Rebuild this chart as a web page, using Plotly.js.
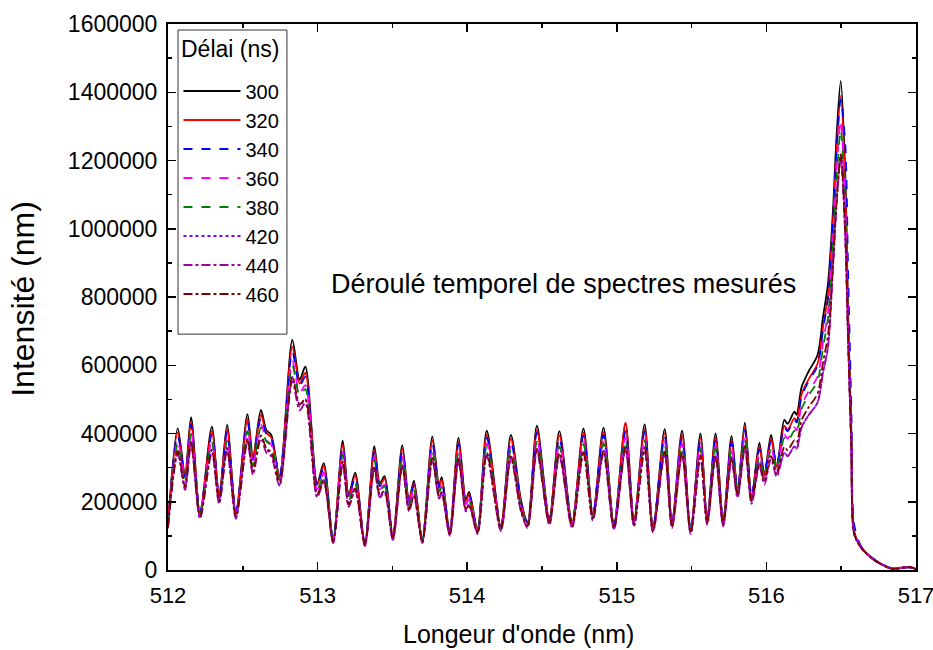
<!DOCTYPE html>
<html>
<head>
<meta charset="utf-8">
<script src="https://cdn.plot.ly/plotly-3.0.1.min.js"></script>
<style>html,body{margin:0;padding:0;background:#fff;}#chart{width:933px;height:650px;}</style>
</head>
<body>
<div id="chart"></div>
<script>
// Wavelength (nm)
const wavelength = [512.000,512.065,512.114,512.154,512.214,512.293,512.342,512.395,512.454,512.531,512.568,512.621,512.657,512.690,512.746,512.831,512.880,512.918,512.997,513.041,513.104,513.168,513.208,513.251,513.316,513.379,513.416,513.448,513.503,513.566,513.611,513.644,513.700,513.767,513.812,513.830,513.883,513.942,513.991,514.013,514.069,514.131,514.225,514.292,514.359,514.404,514.466,514.549,514.616,514.701,514.777,514.840,514.911,514.981,515.058,515.115,515.186,515.242,515.320,515.369,515.436,515.494,515.559,515.604,515.660,515.711,515.767,515.807,515.856,515.901,515.953,515.986,516.031,516.069,516.120,516.142,516.187,516.202,516.236,516.281,516.342,516.378,516.412,516.446,516.468,516.497,516.527,516.546,516.568,516.588,516.638,516.725,516.839,516.953,517.000];

const delays = ["300","320","340","360","380","420","440","460"];

const i300 = [135e3,415e3,280e3,448e3,167e3,420e3,215e3,425e3,167e3,457e3,332e3,469e3,410e3,396e3,273e3,674e3,557e3,596e3,254e3,313e3,88e3,379e3,220e3,285e3,78e3,363e3,254e3,275e3,98e3,366e3,205e3,262e3,88e3,391e3,249e3,272e3,112e3,388e3,205e3,229e3,117e3,408e3,127e3,396e3,205e3,137e3,423e3,147e3,407e3,137e3,415e3,161e3,417e3,132e3,428e3,142e3,427e3,122e3,413e3,137e3,408e3,117e3,400e3,147e3,400e3,142e3,393e3,234e3,432e3,215e3,373e3,278e3,396e3,303e3,440e3,428e3,464e3,455e3,537e3,581e3,630e3,740e3,840e3,1061e3,1263e3,1433e3,1162e3,759e3,400e3,110e3,64e3,29e3,4e3,9e3,2e3];
const i320 = [135e3,403e3,274e3,435e3,167e3,407e3,215e3,412e3,167e3,443e3,325e3,455e3,402e3,388e3,273e3,654e3,546e3,578e3,249e3,304e3,88e3,368e3,216e3,276e3,78e3,352e3,249e3,267e3,98e3,355e3,201e3,254e3,88e3,379e3,244e3,264e3,112e3,376e3,201e3,222e3,117e3,396e3,127e3,384e3,201e3,137e3,410e3,147e3,395e3,137e3,403e3,161e3,404e3,132e3,432e3,142e3,414e3,122e3,401e3,137e3,396e3,117e3,388e3,147e3,388e3,142e3,381e3,234e3,419e3,215e3,362e3,278e3,384e3,303e3,422e3,411e3,445e3,437e3,516e3,558e3,605e3,710e3,806e3,1029e3,1225e3,1390e3,1127e3,740e3,390e3,108e3,64e3,29e3,4e3,9e3,3e3];
const i340 = [138e3,394e3,272e3,426e3,170e3,399e3,219e3,404e3,170e3,434e3,322e3,446e3,398e3,384e3,278e3,640e3,540e3,566e3,246e3,297e3,90e3,360e3,213e3,271e3,80e3,345e3,246e3,261e3,100e3,348e3,199e3,249e3,90e3,371e3,242e3,258e3,114e3,369e3,199e3,218e3,119e3,388e3,130e3,376e3,199e3,140e3,402e3,150e3,387e3,140e3,394e3,164e3,396e3,135e3,407e3,145e3,406e3,124e3,392e3,140e3,388e3,119e3,380e3,150e3,380e3,145e3,373e3,239e3,410e3,219e3,354e3,284e3,376e3,309e3,418e3,407e3,441e3,432e3,510e3,552e3,599e3,703e3,798e3,1029e3,1225e3,1380e3,1250e3,880e3,470e3,130e3,66e3,30e3,5e3,8e3,2e3];
const i360 = [131e3,378e3,260e3,408e3,162e3,382e3,209e3,387e3,162e3,416e3,309e3,427e3,381e3,368e3,265e3,613e3,518e3,542e3,236e3,285e3,85e3,345e3,205e3,259e3,76e3,330e3,236e3,250e3,95e3,333e3,191e3,238e3,85e3,356e3,232e3,248e3,109e3,353e3,191e3,208e3,113e3,371e3,123e3,360e3,191e3,133e3,385e3,143e3,370e3,133e3,378e3,156e3,379e3,128e3,389e3,138e3,389e3,118e3,376e3,133e3,371e3,113e3,364e3,143e3,364e3,138e3,358e3,227e3,393e3,209e3,339e3,270e3,360e3,294e3,396e3,385e3,418e3,410e3,483e3,523e3,567e3,666e3,756e3,976e3,1162e3,1318e3,1069e3,720e3,380e3,108e3,64e3,29e3,4e3,9e3,2e3];
const i380 = [131e3,369e3,258e3,399e3,162e3,374e3,209e3,378e3,162e3,407e3,305e3,417e3,377e3,364e3,265e3,600e3,512e3,530e3,234e3,279e3,85e3,337e3,202e3,254e3,76e3,323e3,234e3,245e3,95e3,326e3,189e3,233e3,85e3,348e3,229e3,242e3,109e3,345e3,189e3,204e3,113e3,363e3,123e3,352e3,189e3,133e3,376e3,143e3,362e3,133e3,369e3,156e3,371e3,128e3,381e3,138e3,380e3,118e3,368e3,133e3,363e3,113e3,356e3,143e3,356e3,138e3,350e3,227e3,384e3,209e3,332e3,270e3,352e3,294e3,387e3,377e3,408e3,400e3,473e3,511e3,554e3,651e3,739e3,955e3,1137e3,1290e3,1046e3,700e3,370e3,106e3,63e3,28e3,4e3,8e3,3e3];
const i420 = [124e3,349e3,241e3,376e3,154e3,353e3,198e3,357e3,154e3,384e3,286e3,394e3,353e3,341e3,251e3,566e3,479e3,501e3,218e3,263e3,81e3,318e3,189e3,239e3,72e3,305e3,218e3,231e3,90e3,307e3,176e3,220e3,81e3,328e3,214e3,228e3,103e3,326e3,176e3,192e3,108e3,343e3,117e3,333e3,176e3,126e3,355e3,135e3,342e3,126e3,349e3,148e3,350e3,121e3,360e3,131e3,359e3,112e3,347e3,126e3,343e3,108e3,336e3,135e3,336e3,131e3,330e3,215e3,363e3,198e3,313e3,256e3,333e3,279e3,343e3,334e3,362e3,355e3,419e3,453e3,491e3,577e3,655e3,902e3,1074e3,1218e3,988e3,680e3,360e3,104e3,62e3,28e3,4e3,8e3,2e3];
const i440 = [122e3,340e3,235e3,367e3,150e3,344e3,194e3,349e3,150e3,375e3,279e3,385e3,344e3,333e3,246e3,553e3,468e3,489e3,213e3,257e3,79e3,311e3,185e3,234e3,70e3,298e3,213e3,226e3,88e3,300e3,172e3,215e3,79e3,321e3,209e3,223e3,101e3,318e3,172e3,188e3,105e3,335e3,114e3,325e3,172e3,123e3,347e3,132e3,334e3,123e3,340e3,145e3,342e3,119e3,351e3,128e3,350e3,110e3,339e3,123e3,335e3,105e3,328e3,132e3,328e3,128e3,322e3,211e3,354e3,194e3,306e3,250e3,325e3,273e3,343e3,334e3,362e3,355e3,419e3,453e3,491e3,577e3,655e3,891e3,1061e3,1204e3,976e3,670e3,355e3,103e3,62e3,27e3,4e3,8e3,2e3];
const i460 = [127e3,349e3,244e3,376e3,157e3,353e3,202e3,357e3,157e3,384e3,289e3,394e3,357e3,345e3,257e3,566e3,485e3,501e3,221e3,263e3,83e3,318e3,191e3,239e3,73e3,305e3,221e3,231e3,92e3,307e3,178e3,220e3,83e3,328e3,217e3,228e3,105e3,326e3,178e3,192e3,110e3,343e3,119e3,333e3,178e3,129e3,355e3,138e3,342e3,129e3,349e3,151e3,350e3,124e3,360e3,133e3,359e3,115e3,347e3,129e3,343e3,110e3,336e3,138e3,336e3,133e3,330e3,220e3,363e3,202e3,313e3,261e3,333e3,285e3,361e3,351e3,380e3,373e3,440e3,476e3,517e3,607e3,689e3,902e3,1074e3,1218e3,988e3,680e3,360e3,104e3,63e3,28e3,4e3,9e3,3e3];

const series = [i300, i320, i340, i360, i380, i420, i440, i460];
const colors = ["#000000", "#ff0000", "#0000ff", "#ff00ff", "#008000", "#8000ff", "#a000a0", "#800000"];
const dashes = ["solid", "solid", "dash", "dash", "dash", "dot", "dashdot", "dashdot"];

const FONT = "Liberation Sans, Arial, sans-serif";

const traces = series.map((ys, k) => ({
  type: "scatter",
  mode: "lines",
  x: wavelength,
  y: ys,
  name: delays[k],
  line: {color: colors[k], width: 1.8, dash: dashes[k], shape: "spline", smoothing: 0.8}
}));

const layout = {
  width: 933,
  height: 650,
  margin: {l: 168, r: 17, t: 24, b: 80},
  paper_bgcolor: "#ffffff",
  plot_bgcolor: "#ffffff",
  font: {family: FONT, color: "#000"},
  showlegend: true,
  legend: {
    x: 0.014, y: 0.913, xanchor: "left", yanchor: "top",
    bgcolor: "rgba(0,0,0,0)", borderwidth: 0,
    font: {family: FONT, size: 20, color: "#000"},
    itemwidth: 57
  },
  xaxis: {
    range: [512, 517],
    tickvals: [512, 513, 514, 515, 516, 517],
    ticktext: ["512", "513", "514", "515", "516", "517"],
    ticks: "inside", ticklen: 8, tickwidth: 1.5, tickcolor: "#000",
    minor: {dtick: 0.5, ticks: "inside", ticklen: 4, tickwidth: 1.5, tickcolor: "#000"},
    showline: true, linewidth: 2, linecolor: "#000", mirror: "allticks",
    showgrid: false, zeroline: false,
    ticklabeloverflow: "allow",
    ticklabelstandoff: 5,
    tickfont: {family: FONT, size: 22, color: "#000"}
  },
  yaxis: {
    range: [0, 1600000],
    dtick: 200000, tick0: 0,
    tickformat: "d",
    ticks: "inside", ticklen: 8, tickwidth: 1.5, tickcolor: "#000",
    minor: {dtick: 100000, ticks: "inside", ticklen: 4, tickwidth: 1.5, tickcolor: "#000"},
    showline: true, linewidth: 2, linecolor: "#000", mirror: "allticks",
    showgrid: false, zeroline: false,
    ticklabelstandoff: 4,
    tickfont: {family: FONT, size: 23, color: "#000"}
  },
  shapes: [{
    type: "rect", xref: "paper", yref: "paper",
    x0: 0.0134, x1: 0.159, y0: 0.432, y1: 0.989,
    line: {color: "#333", width: 1}, fillcolor: "rgba(0,0,0,0)"
  }],
  annotations: [
    {
      x: 514.647, y: 838000, xref: "x", yref: "y",
      text: "Déroulé temporel de spectres mesurés",
      showarrow: false,
      font: {family: FONT, size: 27, color: "#000"}
    },
    {
      x: 0.015, y: 0.955, xref: "paper", yref: "paper", xanchor: "left", yanchor: "middle",
      text: "Délai (ns)", showarrow: false,
      font: {family: FONT, size: 23, color: "#000"}
    },
    {
      x: 0.469, y: -0.117, xref: "paper", yref: "paper", xanchor: "center", yanchor: "middle",
      text: "Longeur d'onde (nm)", showarrow: false,
      font: {family: FONT, size: 25, color: "#000"}
    },
    {
      x: -0.195, y: 0.497, xref: "paper", yref: "paper", xanchor: "center", yanchor: "middle",
      text: "Intensité (nm)", showarrow: false, textangle: -90,
      font: {family: FONT, size: 32, color: "#000"}
    }
  ]
};

Plotly.newPlot("chart", traces, layout, {displayModeBar: false, staticPlot: true});
</script>
</body>
</html>
